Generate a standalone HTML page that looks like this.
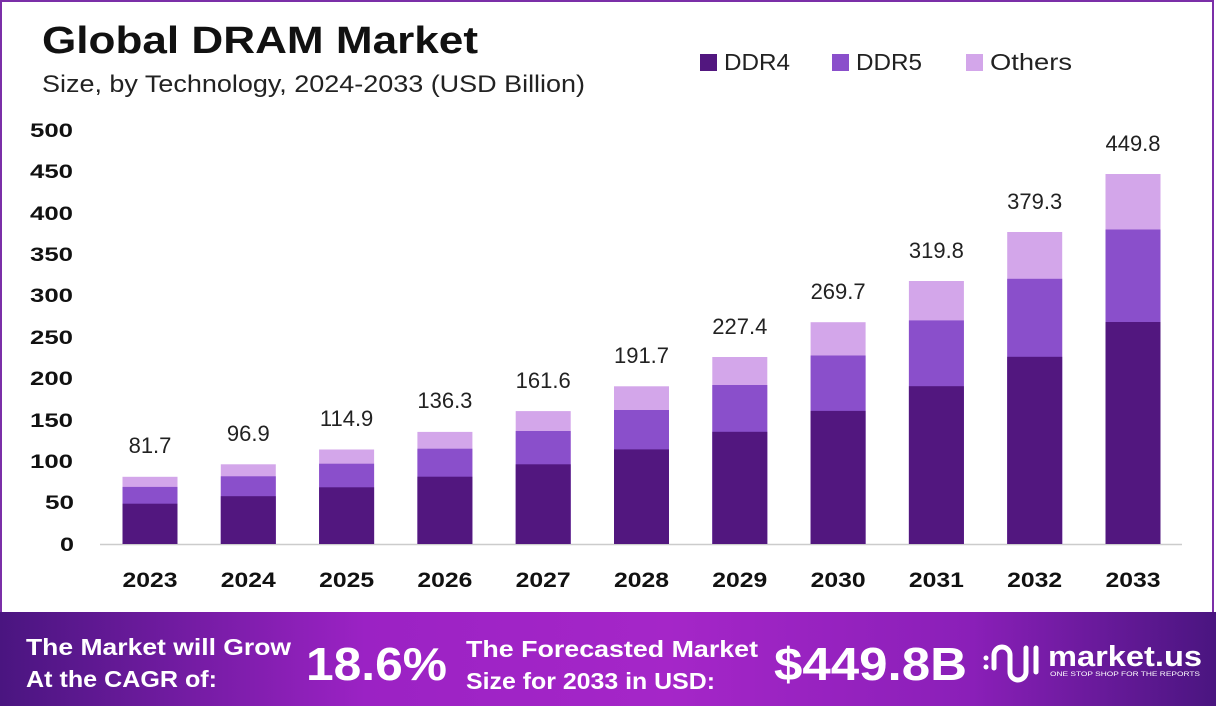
<!DOCTYPE html>
<html><head><meta charset="utf-8"><style>
body{margin:0;width:1216px;height:706px;overflow:hidden;font-family:"Liberation Sans",sans-serif;background:#fff}
</style></head><body>
<svg width="1216" height="706" xmlns="http://www.w3.org/2000/svg" font-family="Liberation Sans, sans-serif">
<defs>
<linearGradient id="fg" x1="0" x2="1" y1="0" y2="0">
<stop offset="0" stop-color="#4a1580"/><stop offset="0.3" stop-color="#9b22c4"/><stop offset="0.55" stop-color="#a526c8"/><stop offset="0.8" stop-color="#8a1fb8"/><stop offset="1" stop-color="#4a1580"/>
</linearGradient>
</defs>
<rect x="1" y="1" width="1212" height="700" fill="#fff" stroke="#7b2fa8" stroke-width="2"/>
<text x="42" y="53" font-size="38" font-weight="bold" fill="#111" textLength="436" lengthAdjust="spacingAndGlyphs">Global DRAM Market</text>
<text x="42" y="92" font-size="24" fill="#222" textLength="543" lengthAdjust="spacingAndGlyphs">Size, by Technology, 2024-2033 (USD Billion)</text>
<rect x="700" y="54" width="17" height="17" fill="#52177f"/><text x="724" y="70" font-size="23" fill="#222" textLength="66" lengthAdjust="spacingAndGlyphs">DDR4</text>
<rect x="832" y="54" width="17" height="17" fill="#8a4fcb"/><text x="856" y="70" font-size="23" fill="#222" textLength="66" lengthAdjust="spacingAndGlyphs">DDR5</text>
<rect x="966" y="54" width="17" height="17" fill="#d3a6ea"/><text x="990" y="70" font-size="23" fill="#222" textLength="82" lengthAdjust="spacingAndGlyphs">Others</text>
<g font-size="19" font-weight="bold" fill="#111">
<text x="60" y="551" textLength="14" lengthAdjust="spacingAndGlyphs">0</text><text x="45" y="509" textLength="29" lengthAdjust="spacingAndGlyphs">50</text><text x="30" y="468" textLength="43" lengthAdjust="spacingAndGlyphs">100</text><text x="30" y="427" textLength="43" lengthAdjust="spacingAndGlyphs">150</text><text x="30" y="385" textLength="43" lengthAdjust="spacingAndGlyphs">200</text><text x="30" y="344" textLength="43" lengthAdjust="spacingAndGlyphs">250</text><text x="30" y="302" textLength="43" lengthAdjust="spacingAndGlyphs">300</text><text x="30" y="261" textLength="43" lengthAdjust="spacingAndGlyphs">350</text><text x="30" y="220" textLength="43" lengthAdjust="spacingAndGlyphs">400</text><text x="30" y="178" textLength="43" lengthAdjust="spacingAndGlyphs">450</text><text x="30" y="137" textLength="43" lengthAdjust="spacingAndGlyphs">500</text>
</g>
<line x1="100" y1="544.5" x2="1182" y2="544.5" stroke="#ccc" stroke-width="1.5"/>
<g>
<rect x="122.5" y="476.8" width="55" height="67.2" fill="#d3a6ea"/><rect x="122.5" y="486.9" width="55" height="57.1" fill="#8a4fcb"/><rect x="122.5" y="503.7" width="55" height="40.3" fill="#52177f"/>
<rect x="220.8" y="464.3" width="55" height="79.7" fill="#d3a6ea"/><rect x="220.8" y="476.3" width="55" height="67.7" fill="#8a4fcb"/><rect x="220.8" y="496.2" width="55" height="47.8" fill="#52177f"/>
<rect x="319.1" y="449.5" width="55" height="94.5" fill="#d3a6ea"/><rect x="319.1" y="463.7" width="55" height="80.3" fill="#8a4fcb"/><rect x="319.1" y="487.3" width="55" height="56.7" fill="#52177f"/>
<rect x="417.4" y="431.9" width="55" height="112.1" fill="#d3a6ea"/><rect x="417.4" y="448.7" width="55" height="95.3" fill="#8a4fcb"/><rect x="417.4" y="476.7" width="55" height="67.3" fill="#52177f"/>
<rect x="515.7" y="411.1" width="55" height="132.9" fill="#d3a6ea"/><rect x="515.7" y="431" width="55" height="113" fill="#8a4fcb"/><rect x="515.7" y="464.3" width="55" height="79.7" fill="#52177f"/>
<rect x="614" y="386.3" width="55" height="157.7" fill="#d3a6ea"/><rect x="614" y="410" width="55" height="134" fill="#8a4fcb"/><rect x="614" y="449.4" width="55" height="94.6" fill="#52177f"/>
<rect x="712.3" y="357" width="55" height="187" fill="#d3a6ea"/><rect x="712.3" y="385" width="55" height="159" fill="#8a4fcb"/><rect x="712.3" y="431.8" width="55" height="112.2" fill="#52177f"/>
<rect x="810.6" y="322.2" width="55" height="221.8" fill="#d3a6ea"/><rect x="810.6" y="355.5" width="55" height="188.5" fill="#8a4fcb"/><rect x="810.6" y="410.9" width="55" height="133.1" fill="#52177f"/>
<rect x="908.9" y="281" width="55" height="263" fill="#d3a6ea"/><rect x="908.9" y="320.4" width="55" height="223.6" fill="#8a4fcb"/><rect x="908.9" y="386.2" width="55" height="157.8" fill="#52177f"/>
<rect x="1007.2" y="232" width="55" height="312" fill="#d3a6ea"/><rect x="1007.2" y="278.8" width="55" height="265.2" fill="#8a4fcb"/><rect x="1007.2" y="356.8" width="55" height="187.2" fill="#52177f"/>
<rect x="1105.5" y="174" width="55" height="370" fill="#d3a6ea"/><rect x="1105.5" y="229.5" width="55" height="314.5" fill="#8a4fcb"/><rect x="1105.5" y="322" width="55" height="222" fill="#52177f"/>
</g>
<g font-size="22" fill="#222" text-anchor="middle">
<text x="150" y="453">81.7</text><text x="248.3" y="441">96.9</text><text x="346.6" y="426">114.9</text><text x="444.9" y="408">136.3</text><text x="543.2" y="388">161.6</text><text x="641.5" y="363">191.7</text><text x="739.8" y="334">227.4</text><text x="838.1" y="299">269.7</text><text x="936.4" y="258">319.8</text><text x="1034.7" y="209">379.3</text><text x="1133" y="151">449.8</text>
</g>
<g font-size="21" font-weight="bold" fill="#111">
<text x="122.5" y="587" textLength="55" lengthAdjust="spacingAndGlyphs">2023</text><text x="220.8" y="587" textLength="55" lengthAdjust="spacingAndGlyphs">2024</text><text x="319.1" y="587" textLength="55" lengthAdjust="spacingAndGlyphs">2025</text><text x="417.4" y="587" textLength="55" lengthAdjust="spacingAndGlyphs">2026</text><text x="515.7" y="587" textLength="55" lengthAdjust="spacingAndGlyphs">2027</text><text x="614" y="587" textLength="55" lengthAdjust="spacingAndGlyphs">2028</text><text x="712.3" y="587" textLength="55" lengthAdjust="spacingAndGlyphs">2029</text><text x="810.6" y="587" textLength="55" lengthAdjust="spacingAndGlyphs">2030</text><text x="908.9" y="587" textLength="55" lengthAdjust="spacingAndGlyphs">2031</text><text x="1007.2" y="587" textLength="55" lengthAdjust="spacingAndGlyphs">2032</text><text x="1105.5" y="587" textLength="55" lengthAdjust="spacingAndGlyphs">2033</text>
</g>
<rect x="0" y="612" width="1216" height="94" fill="url(#fg)"/>
<g fill="#fff" font-weight="bold">
<text x="26" y="655" font-size="23" textLength="265" lengthAdjust="spacingAndGlyphs">The Market will Grow</text>
<text x="26" y="687" font-size="23" textLength="191" lengthAdjust="spacingAndGlyphs">At the CAGR of:</text>
<text x="306" y="680" font-size="46" textLength="141" lengthAdjust="spacingAndGlyphs">18.6%</text>
<text x="466" y="657" font-size="23" textLength="292" lengthAdjust="spacingAndGlyphs">The Forecasted Market</text>
<text x="466" y="689" font-size="23" textLength="249" lengthAdjust="spacingAndGlyphs">Size for 2033 in USD:</text>
<text x="774" y="680" font-size="46" textLength="193" lengthAdjust="spacingAndGlyphs">$449.8B</text>
<text x="1048" y="666" font-size="29" textLength="154" lengthAdjust="spacingAndGlyphs">market.us</text>
<text x="1050" y="676" font-size="6" font-weight="normal" textLength="150" lengthAdjust="spacingAndGlyphs">ONE STOP SHOP FOR THE REPORTS</text>
</g>
<g fill="none" stroke="#fff" stroke-width="5" stroke-linecap="round">
<path d="M994 668 V655 a8 8 0 0 1 16 0 V672 a8 8 0 0 0 16 0 V648"/>
<path d="M1036 648 V672"/>
</g>
<circle cx="986" cy="658" r="2.5" fill="#fff"/><circle cx="986" cy="667" r="2.5" fill="#fff"/>
</svg>
</body></html>
